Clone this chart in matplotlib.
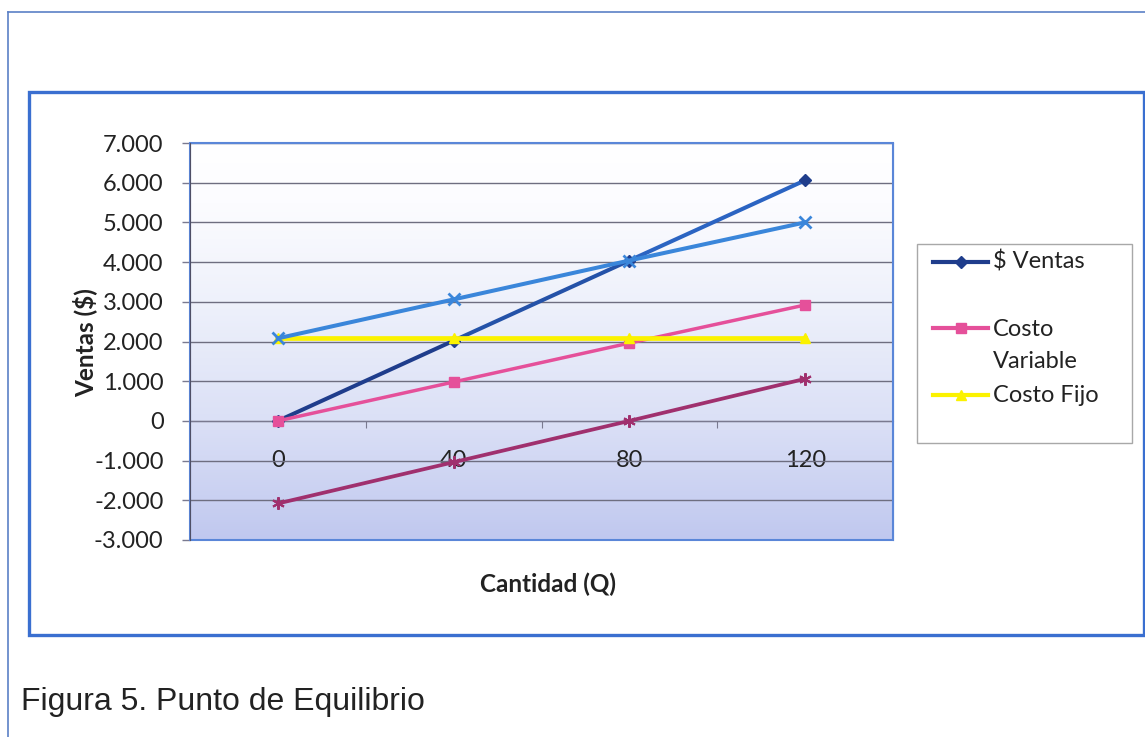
import matplotlib.pyplot as plt
import numpy as np
from matplotlib.collections import LineCollection
from matplotlib.colors import LinearSegmentedColormap
from matplotlib.lines import Line2D
from matplotlib.patches import Rectangle

plt.rcParams['font.family'] = ['Lato', 'DejaVu Sans']

# datos del punto de equilibrio
cantidad = ['0', '40', '80', '120']
ventas = [0, 2020, 4040, 6060]
costo_variable = [0, 980, 1960, 2920]
costo_fijo = [2080, 2080, 2080, 2080]
costo_total = [2080, 3060, 4040, 5000]
utilidad = [-2080, -1040, 0, 1060]

W, H = 1145, 737


def fx(px):
    return px / W


def fy(py):
    return 1 - py / H


fig = plt.figure(figsize=(W / 100, H / 100), dpi=100)
fig.patch.set_facecolor('white')

# marco exterior y borde del grafico
fig.add_artist(Line2D([fx(8), fx(8)], [fy(12), 0], transform=fig.transFigure,
                      color='#5b80c6', lw=1.2))
fig.add_artist(Line2D([fx(8), 1], [fy(12), fy(12)], transform=fig.transFigure,
                      color='#5b80c6', lw=1.2))
fig.add_artist(Rectangle((fx(29), fy(635)), fx(1144) - fx(29), fy(92) - fy(635),
                         transform=fig.transFigure, fill=False,
                         edgecolor='#3a6fd0', lw=2.4))

ax = fig.add_axes([fx(190), fy(540), fx(893) - fx(190), fy(143) - fy(540)])
x = np.arange(len(cantidad))

# fondo degradado del area de trazado
cmap = LinearSegmentedColormap.from_list(
    'fondo', [(0, '#c0c8ef'), (0.3, '#dbe0f6'), (0.6, '#eef1fb'), (0.85, '#fcfcff'), (1, '#ffffff')])
grad = np.linspace(0, 1, 256).reshape(-1, 1)
ax.imshow(grad, extent=[-0.5, 3.5, -3000, 7000], aspect='auto', origin='lower',
          cmap=cmap, zorder=0)

# $ Ventas con tramos de distinto tono
pts = np.column_stack([x, ventas])
segs = np.stack([pts[:-1], pts[1:]], axis=1)
ax.add_collection(LineCollection(segs, colors=['#1f3d8c', '#2452a8', '#2b64c2'],
                                 linewidths=2.9, zorder=3, capstyle='round'))
ax.plot(x, ventas, ls='none', marker='D', ms=6, color='#1f3d8c', zorder=3)

ax.plot(x, costo_variable, color='#e5509a', lw=2.5, marker='s', ms=7, zorder=4)
ax.plot(x, costo_fijo, color='#fbf200', lw=3.4, marker='^', ms=7, zorder=5)
ax.plot(x, costo_total, color='#3a86da', lw=2.9, marker='x', ms=8, mew=2, zorder=6)
ax.plot(x, utilidad, color='#a0306e', lw=2.7, marker=(6, 2, 0), ms=9, mew=1.5, zorder=7)

ax.set_xlim(-0.5, 3.5)
ax.set_ylim(-3000, 7000)

# eje Y
yt = np.arange(-3000, 7001, 1000)
ax.set_yticks(yt)
ax.set_yticklabels(['{:,.0f}'.format(v).replace(',', '.') for v in yt])
ax.tick_params(axis='y', direction='out', length=6, width=1, color='#7a7a90',
               pad=13, labelsize=17, labelcolor='#222222')
ax.yaxis.grid(True, color='#6e6e80', lw=1.0)
ax.set_axisbelow(True)

# eje X sobre la linea del cero
ax.spines['bottom'].set_position(('data', 0))
ax.spines['bottom'].set_color('#7a7a90')
ax.set_xticks([0.5, 1.5, 2.5])
ax.set_xticklabels([])
ax.set_xticks(x, minor=True)
ax.set_xticklabels(cantidad, minor=True)
ax.tick_params(axis='x', which='major', direction='out', length=5, color='#7a7a90')
ax.tick_params(axis='x', which='minor', length=0, pad=21, labelsize=17, labelcolor='#222222')

ax.spines['left'].set_color('#4f4f66')
ax.spines['left'].set_zorder(8)
for s in ['top', 'right']:
    ax.spines[s].set_color('#5a86d8')
ax.add_patch(Rectangle((0, 0), 1, 1, transform=ax.transAxes, fill=False,
                       edgecolor='#5a86d8', lw=1.5, zorder=8, clip_on=False))

fig.text(fx(85), fy(343), 'Ventas ($)', rotation=90, ha='center', va='center',
         fontsize=17.5, fontweight='bold', color='#222222')
fig.text(fx(548), fy(584), 'Cantidad (Q)', ha='center', va='center',
         fontsize=17.5, fontweight='bold', color='#222222')

# leyenda
fig.add_artist(Rectangle((fx(917), fy(443)), fx(1132) - fx(917), fy(244) - fy(443),
                         transform=fig.transFigure, fill=False,
                         edgecolor='#a8a8a8', lw=1.0))
leyenda = [
    ('$ Ventas', '#1f3d8c', 'D', 6, 262),
    ('Costo\nVariable', '#e5509a', 's', 7, 328),
    ('Costo Fijo', '#fbf200', '^', 7, 395),
]
for texto, color, mk, ms, py in leyenda:
    fig.add_artist(Line2D([fx(933), fx(960.5), fx(988)], [fy(py)] * 3,
                          transform=fig.transFigure, color=color, lw=3,
                          marker=mk, ms=ms, markevery=[1]))
    if '\n' in texto:
        fig.text(fx(993), fy(py - 9), texto, ha='left', va='top',
                 fontsize=17, color='#222222', linespacing=1.65)
    else:
        fig.text(fx(993), fy(py), texto, ha='left', va='center',
                 fontsize=17, color='#222222')

fig.text(fx(21), fy(702), 'Figura 5. Punto de Equilibrio', ha='left', va='center',
         fontsize=23, family=['Liberation Sans', 'DejaVu Sans'], color='#222222')

fig.savefig('out.png', dpi=100)
